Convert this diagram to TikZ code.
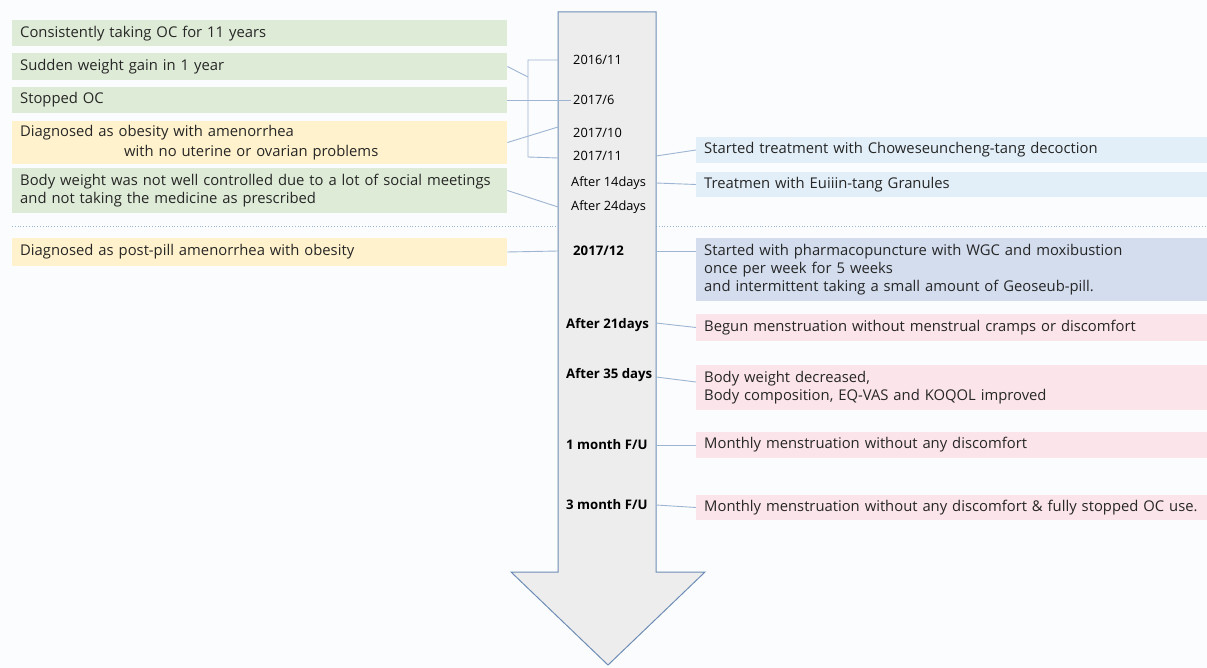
\documentclass[tikz,border=0pt]{standalone}
\usepackage{fontspec}
\setmainfont{Open Sans}
\usetikzlibrary{positioning}

\definecolor{bggray}{HTML}{FBFCFD}
\definecolor{boxgreen}{HTML}{DEEBD6}
\definecolor{boxyellow}{HTML}{FFF2CC}
\definecolor{boxblue}{HTML}{E2EFF8}
\definecolor{boxslate}{HTML}{D3DDEE}
\definecolor{boxpink}{HTML}{FBE4EA}
\definecolor{arrowfill}{HTML}{EDEDED}
\definecolor{arrowedge}{HTML}{6E8DB6}
\definecolor{linkblue}{HTML}{9DB5D2}
\definecolor{inkgray}{HTML}{262626}

\tikzset{
  event/.style={anchor=west, inner xsep=8pt, inner ysep=2pt, align=left,
    font=\fontsize{14.8}{18}\selectfont, text=inkgray},
  leftbox/.style={event, text width=479pt},
  rightbox/.style={event, text width=495pt},
  datelabel/.style={anchor=west, inner sep=2pt, font=\fontsize{12.8}{14}\selectfont, text=black},
  datebold/.style={datelabel, font=\fontsize{13.2}{14}\selectfont\bfseries},
  link/.style={draw=linkblue, line width=0.9pt},
}

\begin{document}
\begin{tikzpicture}[x=1pt, y=-1pt]
    \fill[bggray] (0,0) rectangle (1207,668);
    \useasboundingbox (0,0) rectangle (1207,668);

    % dotted divider behind the arrow
    \draw[linkblue, dotted, line width=0.8pt] (12,226) -- (1207,226);

    % the time arrow
    \draw[arrowedge, fill=arrowfill, line width=1pt]
      (558,12) -- (656,12) -- (656,572) -- (705,572) -- (608,665)
      -- (511,572) -- (558,572) -- cycle;
    \coordinate (sL) at (558,0);
    \coordinate (sR) at (656,0);

    % dates inside the arrow
    \node[datelabel] (d1) at (571,60) {2016/11};
    \node[datelabel] (d2) at (571,100) {2017/6};
    \node[datelabel] (d3) at (571,133) {2017/10};
    \node[datelabel] (d4) at (571,156) {2017/11};
    \node[datelabel] (d5) at (569,183) {After 14days};
    \node[datelabel] (d6) at (569,207) {After 24days};
    \node[datebold] (d7) at (571,251) {2017/12};
    \node[datebold] (d8) at (564,325) {After 21days};
    \node[datebold] (d9) at (564,375) {After 35 days};
    \node[datebold] (d10) at (564,445) {1 month F/U};
    \node[datebold] (d11) at (564,505) {3 month F/U};

    % left column
    \node[leftbox, fill=boxgreen, minimum height=26pt] (consist) at (12,33.5)
      {Consistently taking OC for 11 years};
    \node[leftbox, fill=boxgreen, minimum height=27pt] (sudden) at (12,66.5)
      {Sudden weight gain in 1 year};
    \node[leftbox, fill=boxgreen, minimum height=26pt] (stopped) at (12,100)
      {Stopped OC};
    \node[leftbox, fill=boxyellow, minimum height=43pt, font=\fontsize{14.8}{20}\selectfont] (obese) at (12,142.5)
      {Diagnosed as obesity with amenorrhea\\\hspace*{104pt}with no uterine or ovarian problems};
    \node[leftbox, fill=boxgreen, minimum height=45pt] (bodyw) at (12,190.5)
      {Body weight was not well controlled due to a lot of social meetings\\and not taking the medicine as prescribed};
    \node[leftbox, fill=boxyellow, minimum height=28pt] (postpill) at (12,252)
      {Diagnosed as post-pill amenorrhea with obesity};

    % right column
    \node[rightbox, fill=boxblue, minimum height=26pt] (treat) at (696,150)
      {Started treatment with Choweseuncheng-tang decoction};
    \node[rightbox, fill=boxblue, minimum height=25pt] (granule) at (696,184.5)
      {Treatmen with Euiiin-tang Granules};
    \node[rightbox, fill=boxslate, minimum height=63pt] (pharma) at (696,269.5)
      {Started with pharmacopuncture with WGC and moxibustion\\once per week for 5 weeks\\and intermittent taking a small amount of Geoseub-pill.};
    \node[rightbox, fill=boxpink, minimum height=27pt] (menses) at (696,327.5)
      {Begun menstruation without menstrual cramps or discomfort};
    \node[rightbox, fill=boxpink, minimum height=45pt] (bwdec) at (696,387.5)
      {Body weight decreased,\\Body composition, EQ-VAS and KOQOL improved};
    \node[rightbox, fill=boxpink, minimum height=26pt] (monthly) at (696,445)
      {Monthly menstruation without any discomfort};
    \node[rightbox, fill=boxpink, minimum height=25pt] (fullstop) at (696,507.5)
      {Monthly menstruation without any discomfort \& fully stopped OC use.};

    % bracket joining 2016/11 to 2017/11
    \coordinate (brkT) at (528,60);
    \coordinate (brkM) at (528,77);
    \coordinate (brkB) at (528,157);
    \draw[link] (d1 -| sL) -- (brkT) -- (brkB) -- ([yshift=-2pt]d4.west -| sL);
    \draw[link] (sudden.east) -- (brkM);

    % left links
    \draw[link] (stopped.east) -- (d2.west);
    \draw[link] (obese.east) -- ([yshift=6pt]d3.west -| sL);
    \draw[link] (bodyw.east) -- (d6 -| sL);
    \draw[link] (postpill.east) -- (d7 -| sL);

    % right links
    \draw[link] (d4 -| sR) -- (treat.west);
    \draw[link] (d5 -| sR) -- (granule.west);
    \draw[link] (d7 -| sR) -- (d7 -| pharma.west);
    \draw[link] ([yshift=2pt]d8.east -| sR) -- (menses.west);
    \draw[link] ([yshift=-2pt]d9 -| sR) -- ([yshift=5.5pt]bwdec.west);
    \draw[link] (d10 -| sR) -- (monthly.west);
    \draw[link] (d11 -| sR) -- (fullstop.west);
\end{tikzpicture}
\end{document}
